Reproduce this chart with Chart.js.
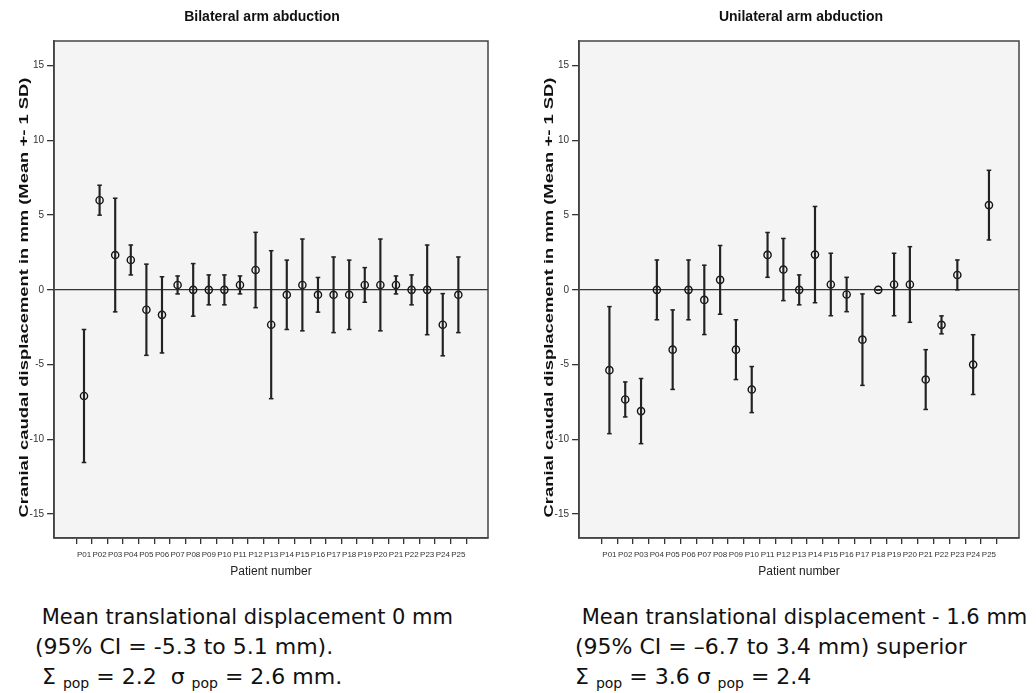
<!DOCTYPE html>
<html>
<head>
<meta charset="utf-8">
<script src="https://cdn.jsdelivr.net/npm/chart.js@4.4.1/dist/chart.umd.min.js"></script>
<style>
  body { margin:0; background:#fff; width:1036px; height:693px; position:relative; overflow:hidden; }
  .plot { position:absolute; top:0; width:518px; height:590px; }
  .title { position:absolute; top:6px; width:300px; text-align:center; line-height:20px;
    font-family:"Liberation Sans", Arial, sans-serif; font-weight:bold; font-size:14px; color:#111; }
  .caption { position:absolute; top:602px; font-family:"DejaVu Sans", Verdana, sans-serif; font-size:22px; line-height:30px; color:#111; white-space:pre; }
  .caption .first { font-size:21px; }
  .caption sub { font-size:14px; vertical-align:baseline; position:relative; top:4px; }
</style>
</head>
<body>
<div class="plot" style="left:0"><canvas id="bilateral" width="518" height="590"></canvas></div>
<div class="plot" style="left:518px"><canvas id="unilateral" width="518" height="590"></canvas></div>
<div class="title" style="left:112px">Bilateral arm abduction</div>
<div class="title" style="left:651px">Unilateral arm abduction</div>
<div class="caption" style="left:35px"><span class="first"> Mean translational displacement 0 mm</span>
(95% CI = -5.3 to 5.1 mm).
 Σ <sub>pop</sub> = 2.2  σ <sub>pop</sub> = 2.6 mm.</div>
<div class="caption" style="left:575px"><span class="first"> Mean translational displacement - 1.6 mm</span>
(95% CI = –6.7 to 3.4 mm) superior
Σ <sub>pop</sub> = 3.6 σ <sub>pop</sub> = 2.4</div>
<script>
const patients = ['P01','P02','P03','P04','P05','P06','P07','P08','P09','P10','P11','P12','P13',
  'P14','P15','P16','P17','P18','P19','P20','P21','P22','P23','P24','P25'];

// bilateral arm abduction: mean and 1 SD per patient (mm)
const bilateralMean = [-7.1, 6.0, 2.33, 2.0, -1.33, -1.67, 0.33, 0, 0, 0, 0.33, 1.33, -2.33,
  -0.33, 0.33, -0.33, -0.33, -0.33, 0.33, 0.33, 0.33, 0, 0, -2.33, -0.33];
const bilateralSD = [4.45, 1.0, 3.8, 1.0, 3.05, 2.55, 0.6, 1.76, 1.0, 1.0, 0.6, 2.52, 4.95,
  2.32, 3.07, 1.16, 2.53, 2.32, 1.16, 3.07, 0.6, 1.0, 3.0, 2.08, 2.53];

// unilateral arm abduction
const unilateralMean = [-5.37, -7.33, -8.11, 0, -4.0, 0, -0.67, 0.67, -4.0, -6.67, 2.34, 1.36, 0,
  2.36, 0.36, -0.31, -3.33, 0, 0.36, 0.36, -6.0, -2.34, 1.0, -5.0, 5.67];
const unilateralSD = [4.25, 1.17, 2.18, 2.0, 2.66, 2.0, 2.32, 2.3, 2.0, 1.54, 1.5, 2.08, 1.0,
  3.22, 2.09, 1.15, 3.06, 0, 2.09, 2.53, 2.0, 0.6, 1.0, 2.0, 2.33];

const yTicks = [-15, -10, -5, 0, 5, 10, 15];
const yTitle = 'Cranial caudal displacement in mm (Mean +- 1 SD)';

Chart.defaults.font.family = '"Liberation Sans", Arial, sans-serif';
Chart.defaults.color = '#222';

const framePlugin = {
  id: 'frame',
  beforeDraw(chart) {
    const { ctx, chartArea: a } = chart;
    ctx.save();
    ctx.fillStyle = '#f4f4f4';
    ctx.fillRect(a.left, a.top, a.width, a.height);
    ctx.restore();
  },
  afterDraw(chart) {
    const { ctx, chartArea: a } = chart;
    ctx.save();
    ctx.strokeStyle = '#444';
    ctx.lineWidth = 1.5;
    ctx.strokeRect(a.left, a.top, a.width, a.height);
    // rotated y axis title, stretched along its length like the original
    ctx.translate(a.left - 30, (a.top + a.bottom) / 2 + 8);
    ctx.rotate(-Math.PI / 2);
    ctx.font = 'bold 13px "Liberation Sans", Arial, sans-serif';
    const w = ctx.measureText(yTitle).width;
    ctx.scale(a.height * 0.885 / w, 1);
    ctx.fillStyle = '#111';
    ctx.textAlign = 'center';
    ctx.textBaseline = 'middle';
    ctx.fillText(yTitle, 0, 0);
    ctx.restore();
  }
};

function makeChart(id, means, sds, padLeft, padRight) {
  const whiskers = means.map((m, i) => ({ x: i + 1, y: [m - sds[i], m + sds[i]] }));
  const caps = means.flatMap((m, i) => [{ x: i + 1, y: m + sds[i] }, { x: i + 1, y: m - sds[i] }]);
  const points = means.map((m, i) => ({ x: i + 1, y: m }));

  new Chart(document.getElementById(id), {
    type: 'bar',
    data: {
      datasets: [
        { type: 'bar', data: whiskers, backgroundColor: '#222', borderWidth: 0, barThickness: 1.5 },
        { type: 'scatter', data: caps, pointStyle: 'line', radius: 2.3, borderWidth: 1.5,
          borderColor: '#222', showLine: false },
        { type: 'scatter', data: points, pointStyle: 'circle', radius: 3.6, borderWidth: 1.4,
          borderColor: '#111', backgroundColor: 'rgba(0,0,0,0)', showLine: false }
      ]
    },
    options: {
      responsive: false,
      animation: false,
      layout: { padding: { left: padLeft, right: padRight, top: 41, bottom: 11 } },
      plugins: {
        legend: { display: false },
        tooltip: { enabled: false }
      },
      scales: {
        x: {
          type: 'linear', offset: false, min: -0.92, max: 26.9,
          afterBuildTicks: (s) => { s.ticks = patients.map((p, i) => ({ value: i + 1 })); },
          ticks: { callback: (v) => patients[v - 1], autoSkip: false, maxRotation: 0, minRotation: 0,
            font: { size: 8 }, color: '#333', padding: 6 },
          grid: { drawOnChartArea: false, tickColor: '#333', tickLength: 6, lineWidth: 1.3 },
          border: { display: true, color: '#444', width: 1.5 },
          title: { display: true, text: 'Patient number', color: '#222', font: { size: 12 },
            padding: { top: -1, bottom: 0 } }
        },
        y: {
          min: -16.6, max: 16.65,
          afterBuildTicks: (s) => { s.ticks = yTicks.map(v => ({ value: v })); },
          ticks: { font: { size: 10 }, color: '#333', padding: 3 },
          grid: {
            color: (c) => (c.tick && c.tick.value === 0 ? '#333' : 'rgba(0,0,0,0)'),
            lineWidth: 1.3, tickColor: '#333', tickLength: 7
          },
          border: { display: true, color: '#444', width: 1.5 }
        }
      }
    },
    plugins: [framePlugin]
  });
}

makeChart('bilateral', bilateralMean, bilateralSD, 26.6, 30);
makeChart('unilateral', unilateralMean, unilateralSD, 33.6, 17);
</script>
</body>
</html>
